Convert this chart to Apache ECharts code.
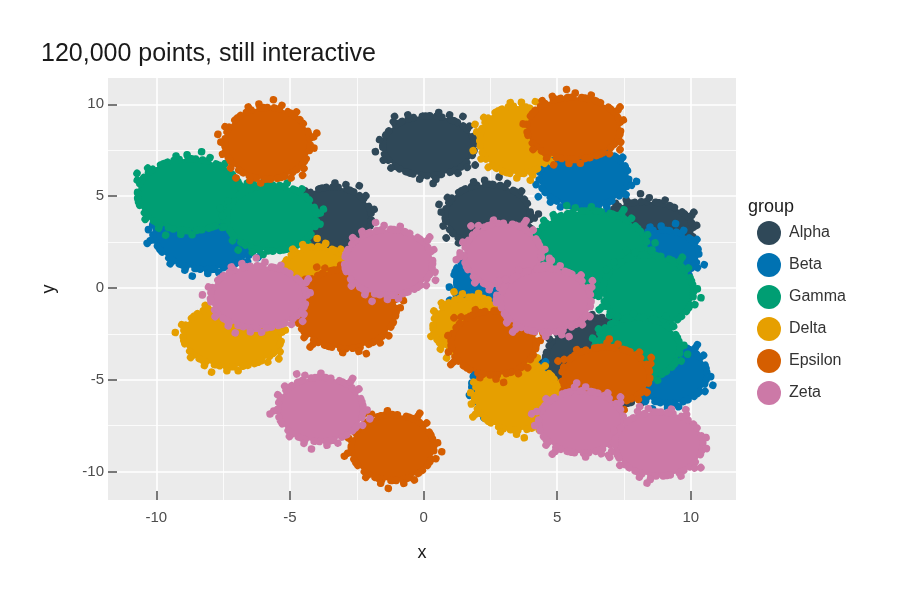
<!DOCTYPE html>
<html>
<head>
<meta charset="utf-8">
<title>120,000 points, still interactive</title>
<script src="https://cdn.jsdelivr.net/npm/echarts@6/dist/echarts.min.js"></script>
<style>
  html, body { margin: 0; padding: 0; background: #fff; }
  #chart { width: 900px; height: 600px; }
</style>
</head>
<body>
<div id="chart"></div>
<script>
// group names and colours (legend order = drawing order)
var groups = ["Alpha", "Beta", "Gamma", "Delta", "Epsilon", "Zeta"];
var colors = ["#2F4858", "#0072B2", "#009E73", "#E69F00", "#D55E00", "#CC79A7"];

// each cluster: [centre x, centre y, spread x, spread y]
var alpha = [[0.19, 7.74, 1.72, 1.63], [-3.4, 3.8, 1.45, 1.7], [2.4, 3.95, 1.6, 1.7], [8.3, 3.1, 1.8, 1.6], [6.9, -4.0, 2.35, 2.4]];
var beta = [[-8.1, 3.2, 2.05, 2.2], [6.0, 6.0, 1.68, 1.6], [8.9, 1.85, 1.4, 1.3], [2.4, 0.3, 1.3, 1.7], [3.2, -5.3, 1.4, 1.7], [9.2, -4.7, 1.4, 1.6]];
var gamma = [[-8.76, 5.07, 1.95, 1.96], [-5.69, 3.8, 1.69, 1.8], [6.2, 2.0, 2.2, 2.2], [8.4, -0.2, 1.7, 2.0], [8.0, -3.3, 1.6, 1.7]];
var delta = [[3.5, 8.05, 1.4, 1.85], [-7.15, -2.6, 1.85, 1.7], [-4.0, 0.8, 1.3, 1.45], [1.8, -2.1, 1.45, 1.6], [3.5, -5.9, 1.6, 1.85]];
var epsilon = [[-5.84, 7.87, 1.6, 1.96], [5.62, 8.69, 1.76, 1.7], [-2.92, -1.14, 1.9, 2.17], [-1.16, -8.69, 1.55, 1.8], [2.62, -3.0, 1.6, 1.75], [6.82, -4.77, 1.65, 1.55]];
var zeta = [[-6.18, -0.5, 1.8, 1.7], [-1.31, 1.39, 1.65, 1.8], [-3.86, -6.62, 1.6, 1.75], [2.96, 1.77, 1.45, 1.75], [4.57, -0.68, 1.7, 1.75], [5.9, -7.3, 1.6, 1.7], [8.8, -8.5, 1.65, 1.75]];
var clusters = [alpha, beta, gamma, delta, epsilon, zeta];

// axis ticks
var xRange = [-11.81, 11.69];
var yRange = [-11.55, 11.43];
var majorTicks = [-10, -5, 0, 5, 10];
var minorTicks = [-7.5, -2.5, 2.5, 7.5];

var chart = echarts.init(document.getElementById("chart"), null, { renderer: "canvas" });
var font = "'Liberation Sans', Arial, Helvetica, sans-serif";

// dot rings: [extra radius px, dash pattern]
var rims = [
  [0, [0.1, 4, 0.1, 7, 0.1, 5, 0.1, 9, 0.1, 3]],
  [4, [0.1, 11, 0.1, 23, 0.1, 16, 0.1, 31]],
  [8, [0.1, 47, 0.1, 71, 0.1, 58]]
];

// a cluster is a dense cloud: solid core with a ragged rim of single points
function renderCluster(params, api) {
  var c = api.coord([api.value(0), api.value(1)]);
  var s = api.size([api.value(2), api.value(3)]);
  var color = api.visual("color");
  var children = [{
    type: "ellipse",
    shape: { cx: c[0], cy: c[1], rx: s[0], ry: s[1] },
    style: { fill: color }
  }];
  rims.forEach(function (r, k) {
    children.push({
      type: "ellipse",
      shape: { cx: c[0], cy: c[1], rx: s[0] + r[0], ry: s[1] + r[0] },
      style: {
        fill: "none", stroke: color, lineWidth: 7.5, lineCap: "round",
        lineDash: r[1], lineDashOffset: (params.dataIndex * 13 + params.seriesIndex * 7 + k * 5)
      }
    });
  });
  return { type: "group", children: children };
}

var series = groups.map(function (name, i) {
  return {
    name: name,
    type: "custom",
    xAxisIndex: 0,
    yAxisIndex: 0,
    renderItem: renderCluster,
    encode: { x: 0, y: 1 },
    itemStyle: { color: colors[i] },
    data: clusters[i],
    z: 2 + i
  };
});

function majorAxis(range, name, isX) {
  return {
    type: "value",
    min: range[0],
    max: range[1],
    position: isX ? "bottom" : "left",
    name: name,
    nameLocation: "middle",
    nameGap: isX ? 44 : 50,
    nameRotate: isX ? 0 : 90,
    nameTextStyle: { color: "#1a1a1a", fontSize: 18, fontFamily: font },
    axisLine: { show: false, onZero: false },
    axisTick: {
      show: true, inside: true, length: 9, customValues: majorTicks,
      lineStyle: { color: "#4d4d4d", width: 1.5 }
    },
    axisLabel: {
      customValues: majorTicks, color: "#4d4d4d", fontSize: 15,
      fontFamily: font, margin: isX ? 10 : 4
    },
    splitLine: { show: true, lineStyle: { color: "#ffffff", width: 1.6 } },
    z: 1
  };
}

function minorAxis(range, isX) {
  return {
    type: "value",
    min: range[0],
    max: range[1],
    position: isX ? "top" : "right",
    axisLine: { show: false, onZero: false },
    axisTick: { show: false, customValues: minorTicks },
    axisLabel: { show: false, customValues: minorTicks },
    splitLine: { show: true, lineStyle: { color: "#ffffff", width: 0.8 } },
    z: 1
  };
}

chart.setOption({
  animation: false,
  color: colors,
  title: [
    {
      text: "120,000 points, still interactive",
      left: 41,
      top: 42,
      padding: 0,
      textStyle: { color: "#1a1a1a", fontSize: 25, fontWeight: "normal", fontFamily: font }
    },
    {
      text: "group",
      left: 748,
      top: 198,
      padding: 0,
      textStyle: { color: "#1a1a1a", fontSize: 18, fontWeight: "normal", fontFamily: font }
    }
  ],
  legend: {
    data: groups,
    orient: "vertical",
    left: 757,
    top: 221,
    padding: 0,
    itemWidth: 24,
    itemHeight: 24,
    itemGap: 8,
    icon: "circle",
    textStyle: { color: "#333333", fontSize: 16, fontFamily: font, padding: [0, 0, 0, 3] }
  },
  grid: {
    left: 108,
    right: 164,
    top: 78,
    bottom: 100,
    show: true,
    backgroundColor: "#EBEBEB",
    borderWidth: 0
  },
  xAxis: [majorAxis(xRange, "x", true), minorAxis(xRange, true)],
  yAxis: [majorAxis(yRange, "y", false), minorAxis(yRange, false)],
  series: series
});
</script>
</body>
</html>
